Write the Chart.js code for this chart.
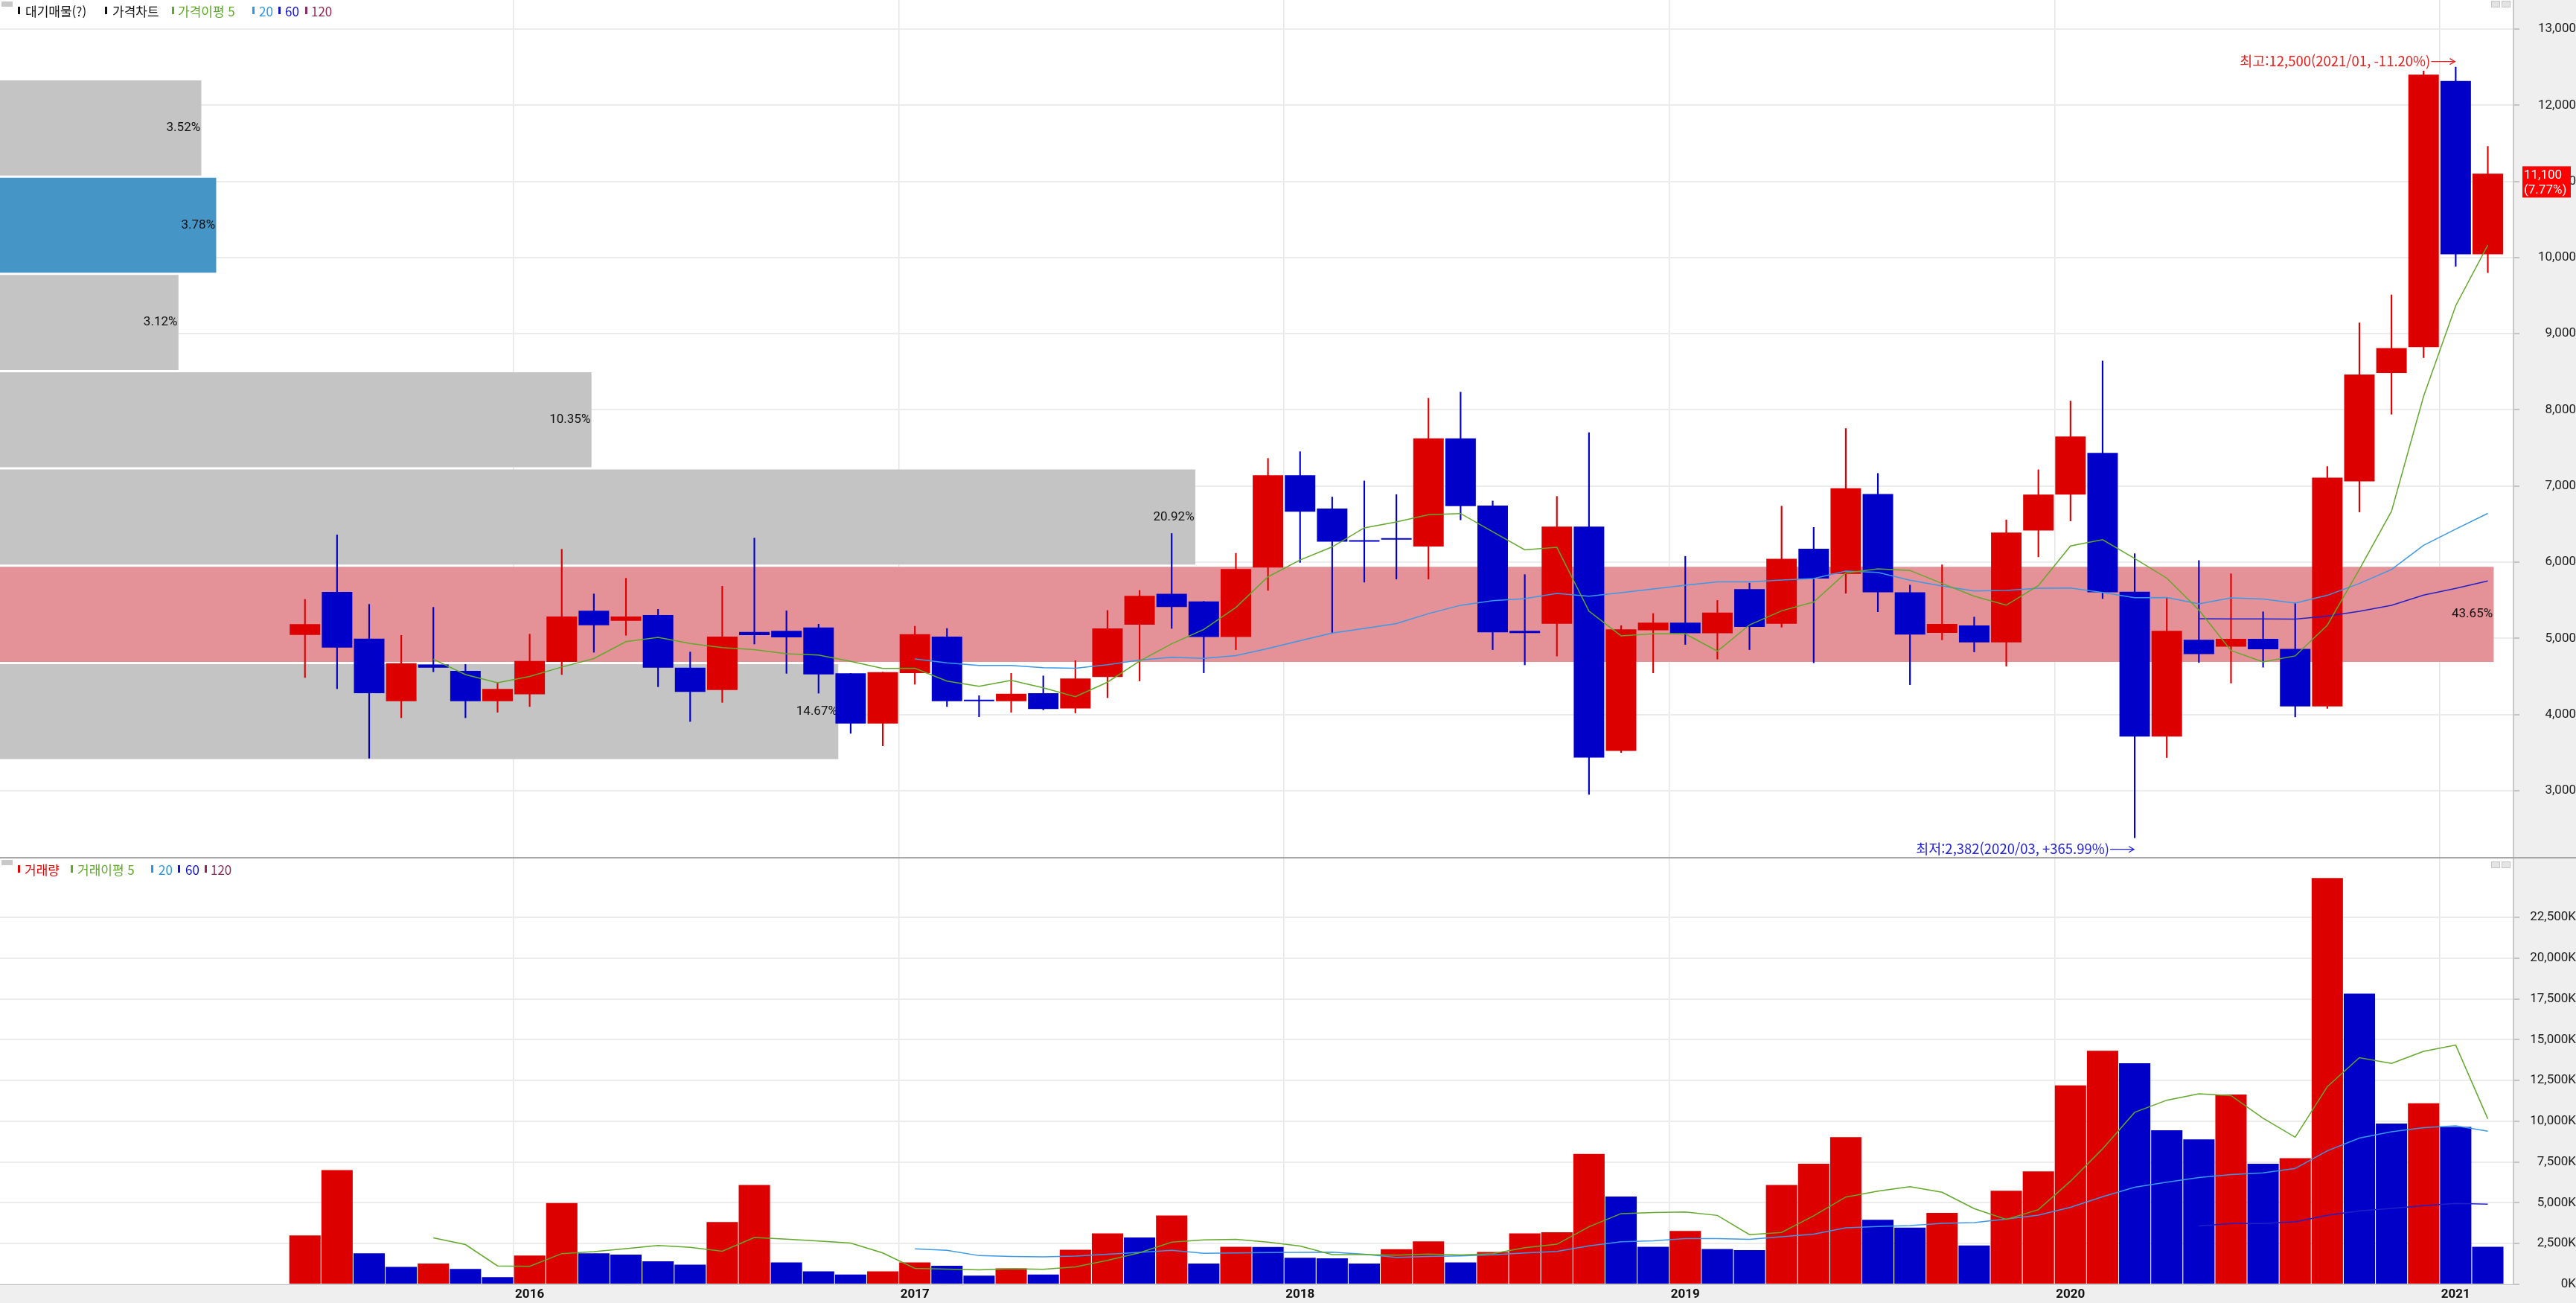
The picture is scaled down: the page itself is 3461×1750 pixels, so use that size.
<!DOCTYPE html>
<html lang="ko">
<head>
<meta charset="utf-8">
<title>가격차트 / 거래량</title>
<script src="https://cdn.jsdelivr.net/npm/chart.js@4.4.1/dist/chart.umd.min.js"></script>
<style>
  html, body { margin: 0; padding: 0; background: #fff; }
  #wrap { position: relative; width: 3461px; height: 1750px; overflow: hidden; }
  .pane { position: absolute; left: 0; width: 3461px; }
  #pricePane { top: 0; height: 1151px; }
  #volPane { top: 1153px; height: 597px; }
  .divider { position: absolute; left: 0; top: 1151px; width: 3461px; height: 2px; background: #a8a8a8; }
  .lg { position: absolute; left: 0; height: 20px; width: 600px;
        font: 17px/17px "Noto Sans CJK KR", sans-serif; white-space: nowrap; }
  .lg span { position: absolute; top: 0; }
  .lg i { position: absolute; top: 3px; width: 3px; height: 10px; }
  .lg b { position: absolute; top: -4px; left: 2px; width: 15px; height: 7px; background: #c8c8c8; }
  .btn { position: absolute; width: 10px; height: 7px; border: 1px solid #c4c4c4; background: #e4e4e4; }
</style>
</head>
<body>
<div id="wrap">
  <div class="pane" id="pricePane"><canvas id="priceCanvas"></canvas></div>
  <div class="pane" id="volPane"><canvas id="volCanvas"></canvas></div>
  <div class="divider"></div>

  <div class="lg" style="top:6px">
    <b></b>
    <i style="left:24px;background:#111"></i><span style="left:34px;color:#111">대기매물(?)</span>
    <i style="left:141px;background:#111"></i><span style="left:151px;color:#111">가격차트</span>
    <i style="left:231px;background:#5fa82a"></i><span style="left:239px;color:#5fa82a">가격이평 5</span>
    <i style="left:339px;background:#2f95e5"></i><span style="left:348px;color:#2f95e5">20</span>
    <i style="left:374px;background:#1515c8"></i><span style="left:383px;color:#1515c8">60</span>
    <i style="left:410px;background:#8c2a5a"></i><span style="left:418px;color:#8c2a5a">120</span>
  </div>
  <div class="lg" style="top:1159px">
    <b></b>
    <i style="left:24px;background:#e00000"></i><span style="left:33px;color:#e00000">거래량</span>
    <i style="left:95px;background:#5fa82a"></i><span style="left:104px;color:#5fa82a">거래이평 5</span>
    <i style="left:203px;background:#2f95e5"></i><span style="left:213px;color:#2f95e5">20</span>
    <i style="left:239px;background:#1515c8"></i><span style="left:249px;color:#1515c8">60</span>
    <i style="left:275px;background:#8c2a5a"></i><span style="left:283px;color:#8c2a5a">120</span>
  </div>
  <div class="btn" style="left:3347px;top:1px"></div>
  <div class="btn" style="left:3361px;top:1px"></div>
  <div class="btn" style="left:3347px;top:1157px"></div>
  <div class="btn" style="left:3361px;top:1157px"></div>
</div>

<script>
// 월봉 (2015/06 ~ 2021/02)
const months = [
  '2015/06', '2015/07', '2015/08', '2015/09', '2015/10', '2015/11', '2015/12',
  '2016/01', '2016/02', '2016/03', '2016/04', '2016/05', '2016/06', '2016/07', '2016/08', '2016/09', '2016/10', '2016/11', '2016/12',
  '2017/01', '2017/02', '2017/03', '2017/04', '2017/05', '2017/06', '2017/07', '2017/08', '2017/09', '2017/10', '2017/11', '2017/12',
  '2018/01', '2018/02', '2018/03', '2018/04', '2018/05', '2018/06', '2018/07', '2018/08', '2018/09', '2018/10', '2018/11', '2018/12',
  '2019/01', '2019/02', '2019/03', '2019/04', '2019/05', '2019/06', '2019/07', '2019/08', '2019/09', '2019/10', '2019/11', '2019/12',
  '2020/01', '2020/02', '2020/03', '2020/04', '2020/05', '2020/06', '2020/07', '2020/08', '2020/09', '2020/10', '2020/11', '2020/12',
  '2021/01', '2021/02'
];

const open = [5046, 5610, 4997, 4176, 4658, 4574, 4176, 4267, 4691, 5362, 5232, 5307, 4616, 4323, 5085, 5098, 5144, 4541, 3883, 4544,
  5023, 4193, 4176, 4281, 4081, 4492, 5179, 5586, 5486, 5019, 5930, 7143, 6704, 6285, 6317, 6205, 7626, 6744, 5099, 5191,
  6468, 3522, 5107, 5207, 5067, 5646, 5191, 6177, 5848, 6895, 5606, 5072, 5169, 4947, 6417, 6889, 7436, 5613, 3712, 4981,
  4891, 4995, 4863, 4108, 7062, 8484, 8823, 12319, 10044];
const high = [5512, 6359, 5447, 5040, 5408, 4658, 4421, 5056, 6170, 5584, 5789, 5382, 4821, 5685, 6317, 5362, 5186, 4541, 4557, 5160,
  5131, 4248, 4541, 4508, 4708, 5367, 5630, 6377, 5486, 6117, 7363, 7451, 6856, 7067, 6888, 8153, 8233, 6804, 5838, 6864,
  7702, 5167, 5327, 6077, 5498, 5726, 6736, 6457, 7755, 7166, 5700, 5966, 5280, 6556, 7214, 8116, 8643, 6112, 5536, 6022,
  5848, 5349, 5467, 7256, 9142, 9510, 12450, 12500, 11459];
const low = [4486, 4339, 3427, 3958, 4561, 3958, 4030, 4105, 4525, 4818, 5040, 4365, 3909, 4160, 4926, 4541, 4280, 3753, 3590, 4398,
  4105, 3971, 4030, 4061, 4021, 4221, 4441, 5131, 4548, 4852, 5630, 5997, 5071, 5738, 5778, 5778, 6556, 4852, 4652, 4768,
  2952, 3502, 4548, 4920, 4728, 4852, 5147, 4680, 5592, 5349, 4392, 4981, 4822, 4635, 6070, 6542, 5522, 2382, 3435, 4683,
  4413, 4621, 3969, 4080, 6660, 7943, 8685, 9884, 9801];
const close = [5186, 4880, 4280, 4675, 4616, 4176, 4336, 4704, 5287, 5173, 5287, 4616, 4297, 5023, 5043, 5014, 4528, 3883, 4557, 5056,
  4176, 4176, 4274, 4073, 4473, 5131, 5558, 5411, 5019, 5910, 7143, 6664, 6269, 6269, 6297, 7626, 6736, 5079, 5071, 6468,
  3435, 5119, 5207, 5067, 5339, 5151, 6045, 5786, 6972, 5606, 5051, 5189, 4947, 6389, 6889, 7651, 5606, 3712, 5099, 4794,
  4995, 4856, 4108, 7110, 8463, 8810, 12402, 10044, 11100];

// 가격 이동평균
const priceMa5 = [null, null, null, null,
  4727, 4525, 4417, 4501, 4624, 4735, 4957, 5013, 4932, 4879, 4853, 4799, 4781, 4698, 4605, 4608,
  4440, 4370, 4448, 4351, 4234, 4425, 4702, 4929, 5118, 5406, 5808, 6029, 6201, 6451, 6528, 6625,
  6639, 6401, 6162, 6196, 5358, 5034, 5060, 5059, 4833, 5177, 5362, 5478, 5859, 5912, 5892, 5721,
  5553, 5436, 5693, 6213, 6296, 6049, 5791, 5372, 4841, 4691, 4770, 5173, 5906, 6669, 8179, 9366, 10164];
const priceMa20 = [null, null, null, null, null, null, null, null, null, null, null, null, null, null, null, null, null, null, null,
  4731, 4680, 4645, 4645, 4615, 4608, 4655, 4716, 4752, 4738, 4775, 4868, 4970, 5069, 5131, 5194,
  5325, 5435, 5495, 5521, 5591, 5554, 5601, 5648, 5698, 5741, 5742, 5766, 5785, 5883, 5867, 5763,
  5689, 5623, 5629, 5659, 5660, 5603, 5535, 5536, 5453, 5531, 5518, 5463, 5565, 5721, 5904, 6222, 6435, 6641];
const priceMa60 = new Array(59).fill(null).concat(
  [5258, 5255, 5255, 5252, 5292, 5356, 5434, 5568, 5657, 5754]);

// 거래량 (단위 K)
const volume = [3000, 7000, 1900, 1070, 1280, 950, 450, 1770, 4990, 1900, 1820, 1420, 1210, 3820, 6090, 1350, 800, 600, 800, 1350,
  1140, 540, 980, 600, 2120, 3130, 2870, 4220, 1280, 2310, 2290, 1630, 1600, 1280, 2160, 2640, 1350, 1980, 3130, 3200,
  8000, 5390, 2310, 3270, 2170, 2100, 6090, 7390, 9030, 3960, 3480, 4380, 2380, 5740, 6920, 12200, 14320, 13550, 9450, 8890,
  11640, 7390, 7740, 24910, 17820, 9860, 11100, 9650, 2310];
const volMa5 = [null, null, null, null,
  2850, 2440, 1130, 1104, 1888, 2012, 2186, 2380, 2268, 2034, 2872, 2778, 2654, 2532, 1928, 980,
  938, 886, 962, 922, 1076, 1474, 1940, 2588, 2724, 2762, 2594, 2346, 1822, 1822, 1792, 1862,
  1806, 1882, 2252, 2460, 3532, 4340, 4406, 4434, 4228, 3048, 3188, 4204, 5356, 5714, 5990, 5648,
  4646, 3988, 4580, 6324, 8312, 10546, 11288, 11682, 11570, 10184, 9022, 12114, 13900, 13544, 14286, 14668, 10148];
const volMa20 = [null, null, null, null, null, null, null, null, null, null, null, null, null, null, null, null, null, null, null,
  2179, 2086, 1763, 1717, 1693, 1735, 1844, 1965, 2088, 1902, 1923, 1946, 1957, 1976, 1849, 1653,
  1717, 1745, 1814, 1930, 2023, 2366, 2608, 2675, 2808, 2811, 2759, 2920, 3079, 3466, 3549, 3608,
  3746, 3785, 4008, 4246, 4724, 5372, 5951, 6267, 6551, 6733, 6833, 7105, 8187, 8969, 9357, 9608, 9721, 9385];
const volMa60 = new Array(59).fill(null).concat(
  [3584, 3728, 3735, 3832, 4229, 4505, 4653, 4831, 4962, 4918]);

// 대기매물 (가격대 중심, 비중 %)
const profileCenters = [4039, 5316, 6593, 7870, 9147, 10424, 11701];
const profilePct = [14.67, 43.65, 20.92, 10.35, 3.12, 3.78, 3.52];

// 축 눈금
const priceTicks = [3000, 4000, 5000, 6000, 7000, 8000, 9000, 10000, 11000, 12000, 13000];
const volTicks = [0, 2500, 5000, 7500, 10000, 12500, 15000, 17500, 20000, 22500];
const yearLabels = ['2016', '2017', '2018', '2019', '2020', '2021'];
const lastChange = 7.77; // 현재가 등락률(%)

// ---- 스타일 ----
const RED = '#dc0000', BLUE = '#0000c8';
const GREEN = '#62a82a', SKY = '#3a98e8', NAVY = '#2020c8';
const profileColors = ['#c4c4c4', '#e49298', '#c4c4c4', '#c4c4c4', '#c4c4c4', '#4596c6', '#c4c4c4'];
const X_MIN = -9.5, X_MAX = 68.8;   // 왼쪽 빈 구간 포함
const PRICE_MIN = 2130, PRICE_MAX = 13381;
const VOL_MAX = 26105;
const AXIS_W = 84;
const SLOT_HALF = 3377 / (X_MAX - X_MIN) / 2;
const PROFILE_THICK = 127;

Chart.defaults.font.family = 'Roboto';
Chart.defaults.color = '#1a1a1a';

const pts = arr => arr.map((v, i) => ({ x: i, y: v }));
const fmt = v => v.toLocaleString('en-US');
const yearTicks = yearLabels.map(y => months.indexOf(y + '/01') - 0.5);
const candleColors = close.map((c, i) => (c >= open[i] ? RED : BLUE));
const volColors = volume.map((v, i) => (i === 0 || v > volume[i - 1] ? RED : BLUE));

// 축 라벨 때문에 차트 영역이 줄지 않도록
const noPad = s => { s.paddingTop = 0; s.paddingBottom = 0; s.paddingLeft = 0; s.paddingRight = 0; };

function xAxis(showLabels) {
  return {
    type: 'linear', min: X_MIN, max: X_MAX, offset: false,
    afterBuildTicks: s => { s.ticks = yearTicks.map(v => ({ value: v })); },
    afterFit: s => { s.height = showLabels ? 25 : 0; noPad(s); },
    grid: { color: '#e6e6e6', lineWidth: 1.5, drawTicks: false, offset: false },
    border: { display: showLabels, color: '#bdbdbd', width: 1 },
    ticks: {
      display: showLabels, autoSkip: false, maxRotation: 0, padding: 4,
      labelOffset: SLOT_HALF,
      font: { family: 'Roboto', size: 17, weight: 'bold' }, color: '#111',
      callback: v => yearLabels[yearTicks.indexOf(v)]
    }
  };
}

function yAxis(min, max, list, suffix, pad) {
  return {
    type: 'linear', position: 'right', min, max,
    afterBuildTicks: s => { s.ticks = list.map(v => ({ value: v })); },
    afterFit: s => { s.width = AXIS_W; noPad(s); },
    grid: { color: '#ececec', lineWidth: 2, tickLength: 8, tickColor: '#c4c4c4' },
    border: { color: '#c8c8c8', width: 2 },
    ticks: {
      crossAlign: 'far', padding: pad,
      font: { family: 'Roboto', size: 17 }, color: '#1a1a1a',
      callback: v => fmt(v) + suffix
    }
  };
}

// 축 영역 회색 배경
const paneBg = {
  id: 'paneBg',
  beforeDraw(chart) {
    const { ctx, chartArea: a, width, height } = chart;
    ctx.save();
    ctx.fillStyle = '#efefef';
    ctx.fillRect(a.right, 0, width - a.right, height);
    if (height > a.bottom) ctx.fillRect(0, a.bottom, width, height - a.bottom);
    ctx.restore();
  }
};

// 대기매물 비중 라벨 (캔들 뒤에 그림)
const profileLabels = {
  id: 'profileLabels',
  afterDatasetDraw(chart, args) {
    if (chart.data.datasets[args.index].label !== '대기매물') return;
    const ctx = chart.ctx;
    ctx.save();
    ctx.font = '17px Roboto';
    ctx.fillStyle = '#111';
    ctx.textAlign = 'right';
    ctx.textBaseline = 'middle';
    args.meta.data.forEach((bar, i) => {
      ctx.fillText(profilePct[i].toFixed(2) + '%', bar.x - 1, bar.y);
    });
    ctx.restore();
  }
};

function drawNote(ctx, xEnd, yMid, text, color) {
  ctx.save();
  ctx.font = '18.5px "Noto Sans CJK KR", sans-serif';
  ctx.fillStyle = color;
  ctx.strokeStyle = color;
  ctx.lineWidth = 1.3;
  ctx.textAlign = 'right';
  ctx.textBaseline = 'middle';
  const a0 = xEnd - 32;
  ctx.fillText(text, a0 - 1, yMid);
  ctx.beginPath();
  ctx.moveTo(a0, yMid + 0.5);
  ctx.lineTo(xEnd, yMid + 0.5);
  ctx.moveTo(xEnd - 7, yMid - 3.5);
  ctx.lineTo(xEnd, yMid + 0.5);
  ctx.lineTo(xEnd - 7, yMid + 4.5);
  ctx.stroke();
  ctx.restore();
}

// 최고/최저 표시 + 현재가
const priceNotes = {
  id: 'priceNotes',
  afterDatasetsDraw(chart) {
    const { ctx, scales: { x, y } } = chart;
    const last = close[close.length - 1];
    const hi = high.indexOf(Math.max(...high));
    const lo = low.indexOf(Math.min(...low));
    const hiPct = ((last - high[hi]) / high[hi] * 100).toFixed(2);
    const loPct = ((last - low[lo]) / low[lo] * 100).toFixed(2);
    drawNote(ctx, x.getPixelForValue(hi) - 1, y.getPixelForValue(high[hi]) - 8,
      `최고:${fmt(high[hi])}(${months[hi]}, ${hiPct}%)`, '#e82020');
    drawNote(ctx, x.getPixelForValue(lo) - 1, y.getPixelForValue(low[lo]) + 15,
      `최저:${fmt(low[lo])}(${months[lo]}, +${loPct}%)`, '#2424d4');
  },
  afterDraw(chart) {
    const { ctx, chartArea: a, scales: { y } } = chart;
    const last = close[close.length - 1];
    const yy = y.getPixelForValue(last);
    ctx.save();
    ctx.fillStyle = '#ff0000';
    ctx.fillRect(a.right + 12, yy - 10, 65, 42);
    ctx.fillStyle = '#fff';
    ctx.font = '17px Roboto';
    ctx.textAlign = 'left';
    ctx.textBaseline = 'middle';
    ctx.fillText(fmt(last), a.right + 14, yy + 2);
    ctx.fillText(`(${lastChange.toFixed(2)}%)`, a.right + 14, yy + 22);
    ctx.restore();
  }
};

const lineSet = (label, data, color, w) => ({
  type: 'line', label, data: pts(data), borderColor: color, borderWidth: w,
  pointRadius: 0, tension: 0, xAxisID: 'x', yAxisID: 'y', order: 1
});

new Chart(document.getElementById('priceCanvas'), {
  type: 'bar',
  data: {
    datasets: [
      lineSet('가격이평 5', priceMa5, GREEN, 1.5),
      lineSet('가격이평 20', priceMa20, SKY, 1.5),
      lineSet('가격이평 60', priceMa60, NAVY, 1.5),
      {
        label: '가격차트', xAxisID: 'x', yAxisID: 'y', order: 2,
        data: months.map((m, i) => ({ x: i, y: [open[i], close[i]] })),
        backgroundColor: candleColors, grouped: false,
        categoryPercentage: 1, barPercentage: 0.95, minBarLength: 2
      },
      {
        label: '꼬리', xAxisID: 'x', yAxisID: 'y', order: 3,
        data: months.map((m, i) => ({ x: i, y: [low[i], high[i]] })),
        backgroundColor: candleColors, grouped: false,
        categoryPercentage: 1, barPercentage: 1, maxBarThickness: 1.5
      },
      {
        label: '대기매물', indexAxis: 'y', xAxisID: 'xp', yAxisID: 'yp', order: 10,
        data: profileCenters.map((c, i) => ({ x: profilePct[i], y: c })),
        backgroundColor: profileColors,
        grouped: false, barThickness: PROFILE_THICK
      }
    ]
  },
  options: {
    responsive: true,
    maintainAspectRatio: false,
    animation: false,
    events: [],
    layout: { padding: 0 },
    plugins: { legend: { display: false }, tooltip: { enabled: false } },
    scales: {
      x: xAxis(false),
      y: yAxis(PRICE_MIN, PRICE_MAX, priceTicks, '', 11),
      xp: { axis: 'x', type: 'linear', display: false, min: 0, max: 44, offset: false, grid: { offset: false } },
      yp: {
        axis: 'y', type: 'linear', display: false, min: PRICE_MIN, max: PRICE_MAX, offset: false,
        grid: { offset: false },
        afterBuildTicks: s => { s.ticks = profileCenters.map(v => ({ value: v })); }
      }
    }
  },
  plugins: [paneBg, profileLabels, priceNotes]
});

new Chart(document.getElementById('volCanvas'), {
  type: 'bar',
  data: {
    datasets: [
      lineSet('거래이평 5', volMa5, GREEN, 1.5),
      lineSet('거래이평 20', volMa20, SKY, 1.5),
      lineSet('거래이평 60', volMa60, NAVY, 1.5),
      {
        label: '거래량', xAxisID: 'x', yAxisID: 'y', order: 2,
        data: pts(volume), backgroundColor: volColors,
        categoryPercentage: 1, barPercentage: 0.975
      }
    ]
  },
  options: {
    responsive: true,
    maintainAspectRatio: false,
    animation: false,
    events: [],
    layout: { padding: 0 },
    plugins: { legend: { display: false }, tooltip: { enabled: false } },
    scales: {
      x: xAxis(true),
      y: yAxis(0, VOL_MAX, volTicks, 'K', 8)
    }
  },
  plugins: [paneBg]
});
</script>
</body>
</html>
